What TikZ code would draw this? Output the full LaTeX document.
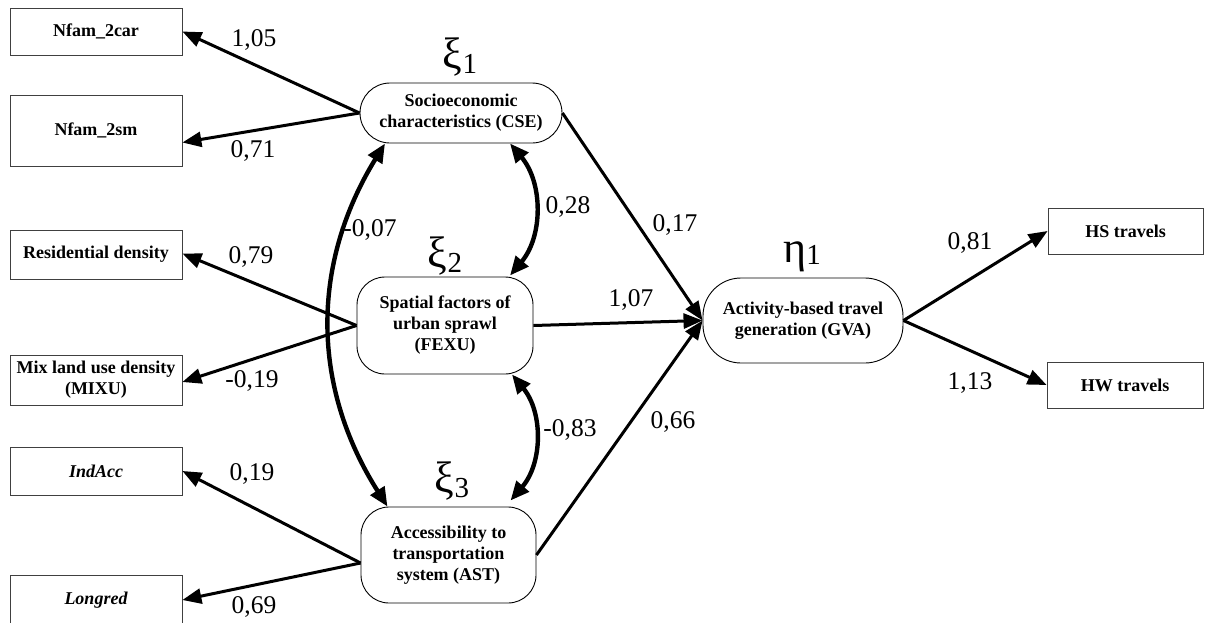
\documentclass[tikz,border=0pt]{standalone}
\usepackage{fontspec}
\setmainfont{Liberation Serif}
\usetikzlibrary{arrows.meta,calc}
\begin{document}
\begin{tikzpicture}[x=1pt,y=-1pt,
 obs/.style={draw=black!75, line width=0.8pt, inner sep=0pt, font=\fontsize{18}{21}\selectfont\bfseries, align=center, minimum width=172pt},
 lat/.style={draw, line width=0.9pt, inner sep=0pt, rounded corners=28pt, font=\fontsize{18}{21}\selectfont\bfseries, align=center},
 arr/.style={line width=3pt, -{Triangle[length=19pt,width=15pt]}},
 cov/.style={line width=4.4pt, {Triangle[length=19pt,width=16pt]}-{Triangle[length=19pt,width=16pt]}},
 coef/.style={font=\fontsize{25.5}{25.5}\selectfont, inner sep=0pt},
 greek/.style={font=\fontsize{44}{44}\selectfont, inner sep=0pt}
]
\useasboundingbox (0,0) rectangle (1210,622);
% observed variables
\node[obs, minimum height=47pt] (n2car) at (96,31.5) {Nfam\_2car};
\node[obs, minimum height=71pt] (n2sm) at (96,130.5) {Nfam\_2sm};
\node[obs, minimum height=49pt] (resd) at (96,254.5) {Residential density};
\node[obs, minimum height=50pt] (mixu) at (96,380) {Mix land use density\\(MIXU)};
\node[obs, minimum height=48pt] (indacc) at (96,471) {\itshape IndAcc};
\node[obs, minimum height=50pt] (longred) at (96,600) {\itshape Longred};
\node[obs, minimum width=155pt, minimum height=46pt] (hs) at (1125.5,231) {HS travels};
\node[obs, minimum width=156pt, minimum height=46pt] (hw) at (1125,385) {HW travels};
% latent variables
\node[lat, minimum width=202pt, minimum height=60pt, rounded corners=30pt] (cse) at (461,113) {Socioeconomic\\characteristics (CSE)};
\node[lat, minimum width=176pt, minimum height=97pt] (fexu) at (445,325.5) {Spatial factors of\\urban sprawl\\(FEXU)};
\node[lat, minimum width=175pt, minimum height=96pt] (ast) at (448.5,555) {Accessibility to\\transportation\\system (AST)};
\node[lat, minimum width=200pt, minimum height=85pt, rounded corners=38pt] (gva) at (803,320.5) {Activity-based travel\\generation (GVA)};
% greek labels
\node[greek] (x1) at (460,57) {ξ\raisebox{-0.12em}{\fontsize{29}{29}\selectfont 1}};
\node[greek] (x2) at (445,256) {ξ\raisebox{-0.12em}{\fontsize{29}{29}\selectfont 2}};
\node[greek] (x3) at (452,481) {ξ\raisebox{-0.12em}{\fontsize{29}{29}\selectfont 3}};
\node[greek] (e1) at (802,257) {η\raisebox{-0.05em}{\fontsize{29}{29}\selectfont 1}};
% loadings
\draw[arr] (cse.west) -- (n2car.east);
\draw[arr] (cse.west) -- ($(n2sm.east)+(0,12)$);
\draw[arr] (fexu.west) -- ($(resd.east)+(0,-1)$);
\draw[arr] (fexu.west) -- ($(mixu.east)+(0,2)$);
\draw[arr] ($(ast.west)+(0,8)$) -- (indacc.east);
\draw[arr] ($(ast.west)+(0,8)$) -- (longred.east);
% structural paths
\draw[arr] (cse.east) -- (gva.west);
\draw[arr] (fexu.east) -- (gva.west);
\draw[arr] (ast.east) -- (gva.west);
\draw[arr] (gva.east) -- (hs.west);
\draw[arr] (gva.east) -- (hw.west);
% covariances
\draw[cov] ($(cse.south)+(49,0)$) to[bend left=40] ($(fexu.north)+(65,-1)$);
\draw[cov] ($(fexu.south)+(67,0)$) to[bend left=40] ($(ast.north)+(62,-6)$);
\draw[cov] ($(cse.south)+(-76,0)$) to[bend right=32] ($(ast.north)+(-61,0)$);
% coefficients
\node[coef] (c1) at (254,40) {1,05};
\node[coef] (c2) at (253,151) {0,71};
\node[coef] (c3) at (251,257) {0,79};
\node[coef] (c4) at (252,381) {-0,19};
\node[coef] (c5) at (252,474) {0,19};
\node[coef] (c6) at (254,607) {0,69};
\node[coef] (c7) at (370,230) {-0,07};
\node[coef] (c8) at (568,207) {0,28};
\node[coef] (c9) at (675,225) {0,17};
\node[coef] (c10) at (631,300) {1,07};
\node[coef] (c11) at (570,430) {-0,83};
\node[coef] (c12) at (673,422) {0,66};
\node[coef] (c13) at (970,243) {0,81};
\node[coef] (c14) at (970,383) {1,13};
\end{tikzpicture}
\end{document}
